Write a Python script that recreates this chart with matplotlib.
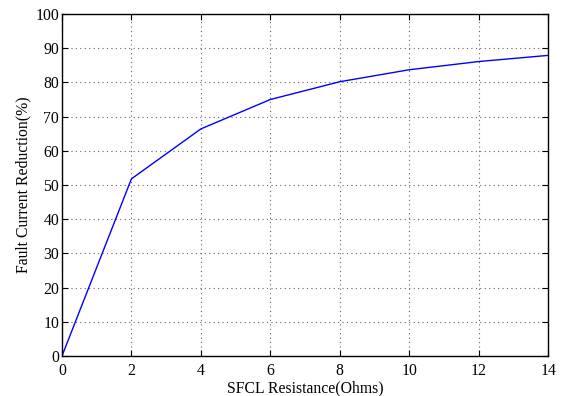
import matplotlib
matplotlib.use("Agg")
import matplotlib.pyplot as plt

# data
resistance = [0, 2, 4, 6, 8, 10, 12, 14]
reduction = [0, 51.8, 66.4, 75.0, 80.2, 83.7, 86.1, 87.9]

plt.rcParams['font.family'] = ['Liberation Serif', 'DejaVu Serif']

fig = plt.figure(figsize=(5.65, 3.96), dpi=100)
ax = fig.add_axes([0.1097, 0.101, 0.8603, 0.8636])
ax.plot(resistance, reduction, color='blue', linewidth=1.0)

ax.set_xlim(0, 14)
ax.set_ylim(0, 100)
ax.set_xticks(range(0, 15, 2))
ax.set_yticks(range(0, 101, 10))
ax.tick_params(direction='in', top=True, right=True, labelsize=11.3, length=4)
ax.tick_params(axis='x', pad=5)
ax.tick_params(axis='y', pad=2)
ax.grid(True, linestyle=(0, (1, 3)), color='0.4', linewidth=0.8)
for s in ax.spines.values():
    s.set_linewidth(1.0)

ax.set_xlabel("SFCL Resistance(Ohms)", fontsize=11.3, labelpad=1)
ax.set_ylabel("Fault Current Reduction(%)", fontsize=11.3, labelpad=3)

fig.savefig("out.png", dpi=100)
